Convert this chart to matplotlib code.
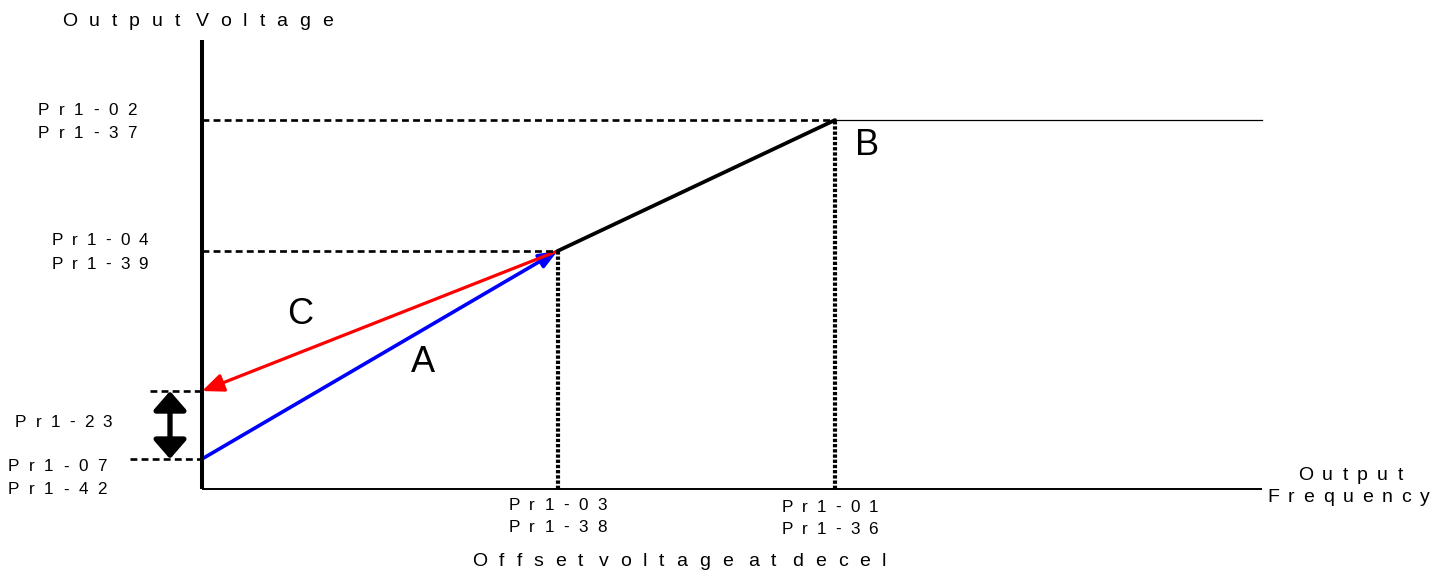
import matplotlib
matplotlib.use("Agg")
import matplotlib.pyplot as plt
from matplotlib import transforms
from matplotlib.font_manager import FontProperties
from matplotlib.patches import FancyArrowPatch

# operating points of the V/f curve (frequency in Hz, voltage in V)
freq_points = [0.0, 33.7, 60.0]       # start, Pr1-03 (mid), Pr1-01 (base)
volt_points = [17.9, 141.9, 220.0]    # Pr1-07, Pr1-04, Pr1-02
decel_offset = 40.5                   # Pr1-23, added on top of Pr1-07
freq_axis_max = 100.5
volt_axis_max = 268.0

# labels
label_vmax = ["Pr1-02", "Pr1-37"]
label_vmid = ["Pr1-04", "Pr1-39"]
label_offset = "Pr1-23"
label_vmin = ["Pr1-07", "Pr1-42"]
label_fmid = ["Pr1-03", "Pr1-38"]
label_fbase = ["Pr1-01", "Pr1-36"]
title_y = "Output Voltage"
title_x = ["Output", "Frequency"]
caption = "Offset voltage at decel"

W, H = 1447, 574
OX, OY = 202, 489            # pixel position of the origin
SX, SY = 10.55, 1.677        # pixels per Hz / per V

fig = plt.figure(figsize=(W / 100, H / 100), dpi=100)
ax = fig.add_axes([0, 0, 1, 1])
ax.set_xlim(-OX / SX, (W - OX) / SX)
ax.set_ylim(-(H - OY) / SY, OY / SY)
ax.set_axis_off()

f0, f1, f2 = freq_points
v0, v1, v2 = volt_points
v_dec = v0 + decel_offset

# axes
ax.plot([0, 0], [0, volt_axis_max], color="black", lw=2.9, solid_capstyle="butt")
ax.plot([0, freq_axis_max], [0, 0], color="black", lw=1.4, solid_capstyle="butt")

# guides
dash = dict(color="black", lw=1.9, linestyle=(0, (2.6, 1.6)))
ax.plot([0, f2], [v2, v2], **dash)
ax.plot([0, f1], [v1, v1], **dash)
ax.plot([-52 / SX, 0], [v_dec, v_dec], **dash)
ax.plot([-72 / SX, 0], [v0, v0], **dash)
ax.plot([f2, freq_axis_max], [v2, v2], color="black", lw=0.9)
dot = dict(color="black", lw=3.0, linestyle=(0, (0.8, 0.45)), dash_capstyle="butt")
ax.plot([f1, f1], [0, v1], **dot)
ax.plot([f2, f2], [0, v2], **dot)

# curve
ax.plot([f1, f2], [v1, v2], color="black", lw=2.7, solid_capstyle="round")
ax.add_patch(FancyArrowPatch((f0, v0), (f1, v1), color="#0000ff", lw=2.6,
                             arrowstyle="-|>,head_length=1.1,head_width=0.45",
                             mutation_scale=10, shrinkA=0, shrinkB=0))
ax.add_patch(FancyArrowPatch((f1, v1), (f0, v_dec), color="#ff0000", lw=2.3,
                             arrowstyle="-|>,head_length=1.3,head_width=0.55",
                             mutation_scale=10, shrinkA=0, shrinkB=0))
ax.add_patch(FancyArrowPatch((-32 / SX, v_dec), (-32 / SX, v0), color="black", lw=3.8,
                             arrowstyle="<|-|>,head_length=1.15,head_width=1.0",
                             mutation_scale=10, shrinkA=0, shrinkB=0))

renderer = fig.canvas.get_renderer()


def spaced(x, y, s, size, width, dx=0, dy=0, ha="left", word_gap=4):
    # letter-spaced text; dx, dy are pixel offsets (dy up)
    fp = FontProperties(family="Liberation Sans", size=size)
    chars = []
    gap_before = []
    extra = 0
    for c in s:
        if c == " ":
            extra += word_gap
            continue
        chars.append(c)
        gap_before.append(extra)
        extra = 0
    ws = [renderer.get_text_width_height_descent(c, fp, ismath=False)[0] for c in chars]
    track = (width - sum(ws) - sum(gap_before)) / (len(chars) - 1)
    off = -width / 2 if ha == "center" else 0
    for c, w, g in zip(chars, ws, gap_before):
        off += g
        tr = transforms.offset_copy(ax.transData, fig=fig, x=dx + off, y=dy, units="dots")
        ax.text(x, y, c, fontproperties=fp, transform=tr, ha="left", va="center")
        off += w + track


small = 12.3
big = 14
spaced(0, volt_axis_max, title_y, big, 271, dx=-140, dy=18)
spaced(-OX / SX, v2, label_vmax[0], small, 99, dx=38, dy=10)
spaced(-OX / SX, v2, label_vmax[1], small, 99, dx=38, dy=-13)
spaced(-OX / SX, v1, label_vmid[0], small, 96, dx=52, dy=11)
spaced(-OX / SX, v1, label_vmid[1], small, 96, dx=52, dy=-13)
spaced(-OX / SX, (v0 + v_dec) / 2, label_offset, small, 97, dx=15, dy=3)
spaced(-OX / SX, v0, label_vmin[0], small, 99, dx=8, dy=-8)
spaced(-OX / SX, v0, label_vmin[1], small, 99, dx=8, dy=-31)
spaced(f1, 0, label_fmid[0], small, 98, dy=-16, ha="center")
spaced(f1, 0, label_fmid[1], small, 98, dy=-38, ha="center")
spaced(f2, 0, label_fbase[0], small, 96, dx=-5, dy=-18, ha="center")
spaced(f2, 0, label_fbase[1], small, 96, dx=-5, dy=-40, ha="center")
spaced(freq_axis_max, 0, title_x[0], big, 105, dx=88, dy=14, ha="center")
spaced(freq_axis_max, 0, title_x[1], big, 162, dx=86, dy=-8, ha="center")
spaced((f1 + f2) / 2, 0, caption, big, 414, dx=-17, dy=-73, ha="center")

letter = dict(family="Liberation Sans", fontsize=26, ha="center", va="center")
ax.text((423 - OX) / SX, (OY - 362) / SY, "A", **letter)
ax.text((867 - OX) / SX, (OY - 146) / SY, "B", **letter)
ax.text((300 - OX) / SX, (OY - 315) / SY, "C", **letter)

fig.savefig("out.png", dpi=100)
